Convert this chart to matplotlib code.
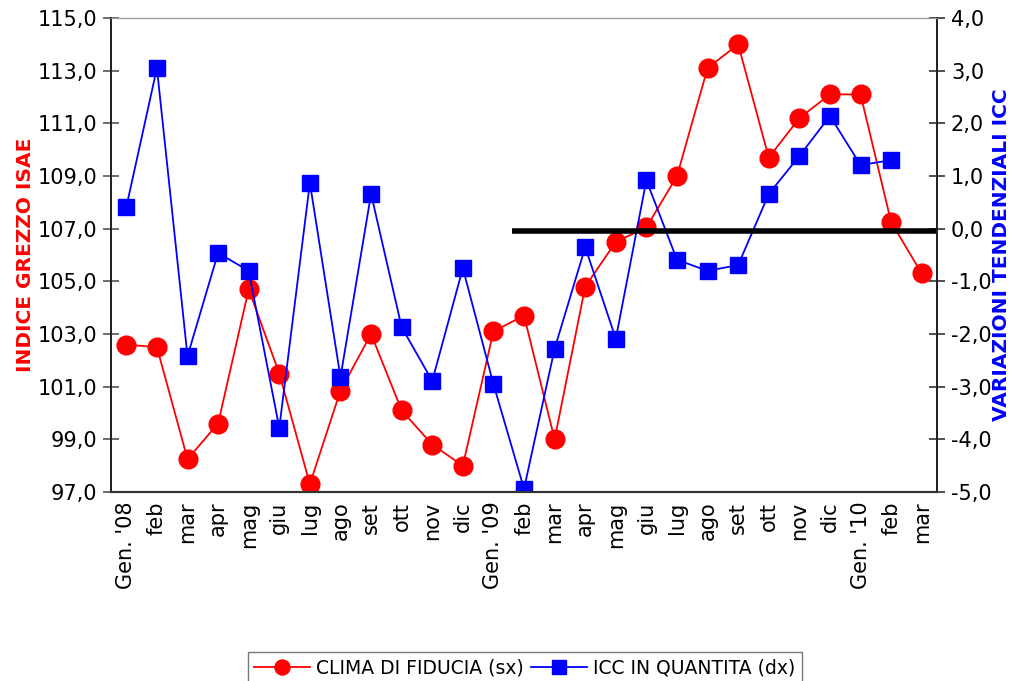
import matplotlib.pyplot as plt
import numpy as np

plt.rcParams['font.family'] = ['DejaVu Sans']

mesi = ["Gen. '08", 'feb', 'mar', 'apr', 'mag', 'giu', 'lug', 'ago', 'set', 'ott', 'nov', 'dic',
        "Gen. '09", 'feb', 'mar', 'apr', 'mag', 'giu', 'lug', 'ago', 'set', 'ott', 'nov', 'dic',
        "Gen. '10", 'feb', 'mar']

clima = [102.6, 102.5, 98.25, 99.6, 104.7, 101.5, 97.3, 100.85, 103.0, 100.1, 98.8, 98.0,
         103.1, 103.7, 99.0, 104.8, 106.5, 107.05, 109.0, 113.1, 114.0, 109.7, 111.2, 112.1,
         112.1, 107.25, 105.3]

icc = [0.41, 3.05, -2.42, -0.46, -0.8, -3.78, 0.87, -2.82, 0.66, -1.87, -2.89, -0.75,
       -2.95, -4.94, -2.28, -0.35, -2.09, 0.92, -0.59, -0.8, -0.69, 0.66, 1.38, 2.14,
       1.21, 1.3, np.nan]

def virgola(v):
    return f'{v:.1f}'.replace('.', ',')

x = np.arange(len(mesi))

fig = plt.figure(figsize=(10.13, 6.81), dpi=100)
ax = fig.add_axes([0.1096, 0.2775, 0.8154, 0.696])
ax2 = ax.twinx()

l1, = ax.plot(x, clima, color='red', lw=1.3, marker='o', ms=13.5, label='CLIMA DI FIDUCIA (sx)')
l2, = ax2.plot(x, icc, color='blue', lw=1.3, marker='s', ms=12, label='ICC IN QUANTITA (dx)')

# linea nera di riferimento
ax2.plot([12.6, len(mesi) - 0.5], [-0.04, -0.04], color='black', lw=4, solid_capstyle='butt')

ax.set_xlim(-0.5, len(mesi) - 0.5)
ax.set_ylim(97, 115)
ax2.set_ylim(-5, 4)

lt = np.arange(97, 115.1, 2)
ax.set_yticks(lt)
ax.set_yticklabels([virgola(v) for v in lt], fontsize=15)
rt = np.arange(-5, 4.1, 1)
ax2.set_yticks(rt)
ax2.set_yticklabels([virgola(v) for v in rt], fontsize=15)

ax.set_xticks(x)
ax.set_xticklabels(mesi, rotation=90, fontsize=15)
ax.tick_params(axis='x', length=0, pad=7)
ax.tick_params(axis='y', direction='inout', length=12, width=1.2, color='#555555', pad=4)
ax2.tick_params(axis='y', direction='inout', length=12, width=1.2, color='#333333', pad=4)

ax.spines['top'].set_color('#999999')
ax2.spines['top'].set_color('#999999')
for a in (ax, ax2):
    a.spines['left'].set_color('#222222')
    a.spines['right'].set_color('#222222')
    a.spines['bottom'].set_color('#333333')
    a.spines['left'].set_linewidth(1.3)
    a.spines['right'].set_linewidth(1.3)
    a.spines['bottom'].set_linewidth(1.5)

ax.set_ylabel('INDICE GREZZO ISAE', color='red', fontweight='bold', fontsize=14.5, labelpad=2)
ax2.set_ylabel('VARIAZIONI TENDENZIALI ICC', color='blue', fontweight='bold', fontsize=14.5, labelpad=0)

leg = fig.legend([l1, l2], [l1.get_label(), l2.get_label()], loc='lower center',
                 bbox_to_anchor=(0.518, -0.018), ncol=2, fontsize=13.5, frameon=True,
                 fancybox=False, edgecolor='#555555', handlelength=3, columnspacing=0.4,
                 handletextpad=0.3, borderpad=0.35, markerscale=0.8)
leg.get_frame().set_linewidth(1.0)

fig.savefig('out.png', dpi=100)
